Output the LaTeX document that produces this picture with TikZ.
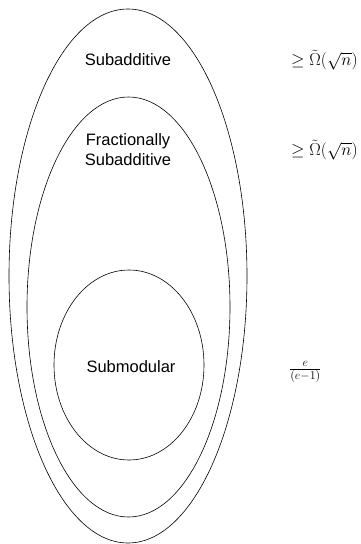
\documentclass[tikz,border=0pt]{standalone}
\usepackage{amsmath,amssymb}
\usepackage{fontspec}
\newfontfamily\labelfont{Liberation Sans}
\usetikzlibrary{shapes.geometric, positioning}

\begin{document}
\begin{tikzpicture}[
  x=1pt, y=-1pt,
  set/.style={draw, ellipse, line width=0.6pt, inner sep=0pt},
  classlabel/.style={font=\labelfont\fontsize{16.5}{20}\selectfont, align=center},
  bound/.style={font=\fontsize{16.5}{20}\selectfont, inner sep=0pt, anchor=west}
]
  \useasboundingbox (0,0) rectangle (360,544);

  % nested classes
  \node[set, minimum width=238pt, minimum height=534pt] (Sub)  at (128,276) {};
  \node[set, minimum width=203pt, minimum height=420pt] (Frac) at (128.5,307) {};
  \node[set, minimum width=150pt, minimum height=190pt] (Mod)  at (129,365) {};

  \node[classlabel] (SubL)  at (128,60)  {Subadditive};
  \node[classlabel] (FracL) at (128,150) {Fractionally\\Subadditive};
  \node[classlabel] (ModL)  at (131,367) {Submodular};

  % bounds
  \node[bound] (SubB)  at (291,60)  {$\geq \tilde{\Omega}(\sqrt{n})$};
  \node[bound] (FracB) at (291,150) {$\geq \tilde{\Omega}(\sqrt{n})$};
  \node[bound] (ModB)  at (289,372) {$\frac{e}{(e-1)}$};
\end{tikzpicture}
\end{document}
